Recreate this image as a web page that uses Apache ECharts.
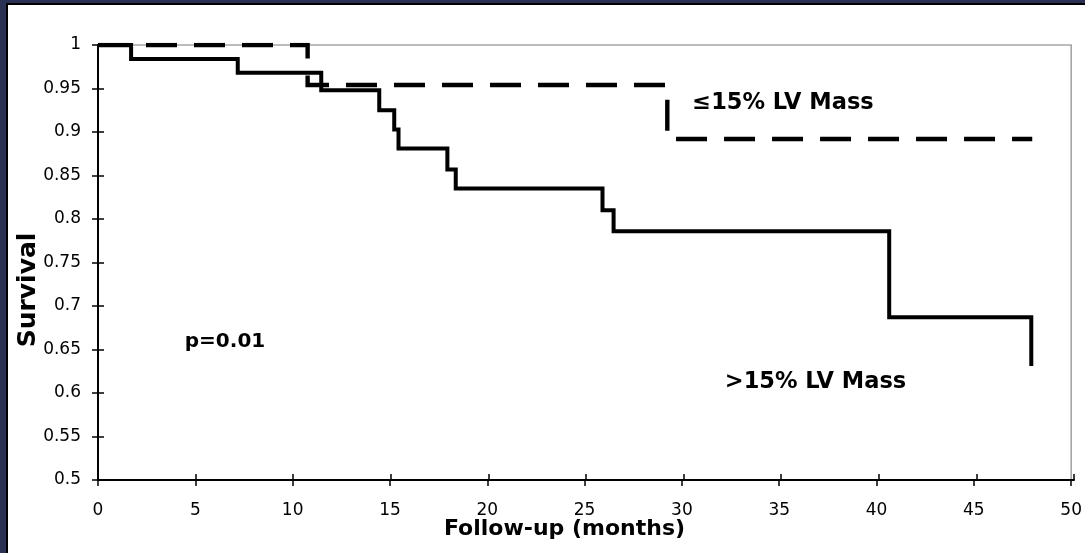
<!DOCTYPE html>
<html>
<head>
<meta charset="utf-8">
<script src="https://cdn.jsdelivr.net/npm/echarts@6/dist/echarts.min.js"></script>
<style>
  html, body { margin: 0; padding: 0; background: #2b3152; }
  #frame { position: absolute; left: 6px; top: 3px; width: 1079px; height: 550px; background: #ffffff; border-left: 2px solid #000; border-top: 2px solid #000; box-sizing: border-box; }
  #chart { position: absolute; left: 0; top: 0; width: 1085px; height: 553px; }
</style>
</head>
<body>
<div id="frame"></div>
<div id="chart"></div>
<script>
// Follow-up time (months) at each drop, and survival level after the drop
const smallMassTimes = [0, 10.77, 29.25, 48.0];
const smallMassSurvival = [1, 0.954, 0.892, 0.892];

const largeMassTimes = [0, 1.7, 7.18, 11.47, 14.45, 15.22, 15.44, 17.95, 18.38, 25.92, 26.49, 40.65, 47.95];
const largeMassSurvival = [1, 0.984, 0.968, 0.948, 0.925, 0.903, 0.881, 0.857, 0.835, 0.810, 0.786, 0.687, 0.631];

const xTicks = { min: 0, max: 50, interval: 5 };
const yTicks = { min: 0.5, max: 1, interval: 0.05 };

const labelSmall = '≤15% LV Mass';
const labelLarge = '>15% LV Mass';
const labelP = 'p=0.01';
const xTitle = 'Follow-up (months)';
const yTitle = 'Survival';

const FONT = '"DejaVu Sans", "Liberation Sans", Arial, sans-serif';

const chart = echarts.init(document.getElementById('chart'), null, { renderer: 'canvas' });

function pairs(xs, ys) { return xs.map((x, i) => [x, ys[i]]); }

function tick(inside) { return { show: true, inside: inside, length: 6, lineStyle: { color: '#000', width: 1.5 } }; }
const gridRect = { left: 98, right: 11, top: 45, bottom: 73 };

chart.setOption({
  backgroundColor: 'transparent',
  animation: false,
  grid: [
    Object.assign({ show: true, borderColor: '#a6a6a6', borderWidth: 1.6, backgroundColor: 'transparent' }, gridRect),
    Object.assign({ show: false }, gridRect)
  ],
  xAxis: [
    {
      gridIndex: 0, type: 'value', min: xTicks.min, max: xTicks.max, interval: xTicks.interval, position: 'bottom',
      axisLine: { show: true, onZero: false, lineStyle: { color: '#000', width: 2 } },
      axisTick: tick(false),
      axisLabel: { color: '#000', fontFamily: FONT, fontSize: 17, margin: 22 },
      splitLine: { show: false }
    },
    {
      gridIndex: 1, type: 'value', min: xTicks.min, max: xTicks.max, interval: xTicks.interval, position: 'bottom',
      axisLine: { show: true, onZero: false, lineStyle: { color: '#000', width: 2 } },
      axisTick: tick(true),
      axisLabel: { show: false },
      splitLine: { show: false }
    }
  ],
  yAxis: [
    {
      gridIndex: 0, type: 'value', min: yTicks.min, max: yTicks.max, interval: yTicks.interval, position: 'left',
      axisLine: { show: true, onZero: false, lineStyle: { color: '#000', width: 2 } },
      axisTick: tick(false),
      axisLabel: { color: '#000', fontFamily: FONT, fontSize: 17, margin: 17 },
      splitLine: { show: false }
    },
    {
      gridIndex: 1, type: 'value', min: yTicks.min, max: yTicks.max, interval: yTicks.interval, position: 'left',
      axisLine: { show: true, onZero: false, lineStyle: { color: '#000', width: 2 } },
      axisTick: tick(true),
      axisLabel: { show: false },
      splitLine: { show: false }
    }
  ],
  series: [
    {
      name: labelSmall, type: 'line', step: 'end', symbol: 'none', xAxisIndex: 0, yAxisIndex: 0,
      data: pairs(smallMassTimes, smallMassSurvival),
      lineStyle: { color: '#000', width: 4.4, type: [31, 17], cap: 'butt', join: 'miter' },
      z: 2
    },
    {
      name: labelLarge, type: 'line', step: 'end', symbol: 'none', xAxisIndex: 0, yAxisIndex: 0,
      data: pairs(largeMassTimes, largeMassSurvival),
      lineStyle: { color: '#000', width: 4, type: 'solid', cap: 'butt', join: 'miter' },
      z: 3
    }
  ],
  graphic: [
    { type: 'text', x: 564.5, y: 529, style: { text: xTitle, font: 'bold 22px ' + FONT, fill: '#000', textAlign: 'center', textVerticalAlign: 'middle' } },
    { type: 'text', x: 28, y: 290, rotation: Math.PI / 2, style: { text: yTitle, font: 'bold 25px ' + FONT, fill: '#000', textAlign: 'center', textVerticalAlign: 'middle' } },
    { type: 'text', x: 783, y: 103, style: { text: labelSmall, font: 'bold 22.5px ' + FONT, fill: '#000', textAlign: 'center', textVerticalAlign: 'middle' } },
    { type: 'text', x: 815.5, y: 382, style: { text: labelLarge, font: 'bold 22.5px ' + FONT, fill: '#000', textAlign: 'center', textVerticalAlign: 'middle' } },
    { type: 'text', x: 225, y: 342, style: { text: labelP, font: 'bold 20px ' + FONT, fill: '#000', textAlign: 'center', textVerticalAlign: 'middle' } }
  ]
});
</script>
</body>
</html>
